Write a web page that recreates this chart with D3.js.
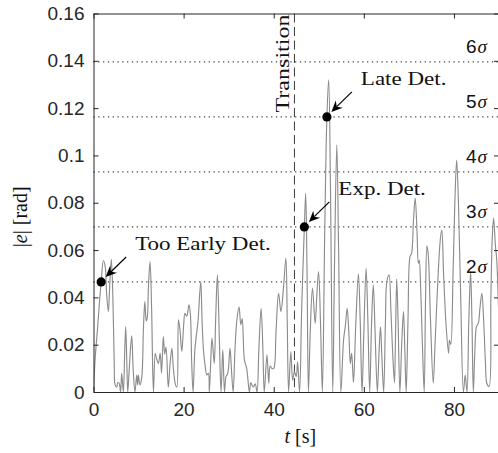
<!DOCTYPE html>
<html>
<head>
<meta charset="utf-8">
<script src="https://cdn.jsdelivr.net/npm/d3@7"></script>
<style>
  html, body { margin: 0; padding: 0; background: #fff; }
  svg { display: block; }
</style>
</head>
<body>
<svg id="chart" width="498" height="453"></svg>
<script>
// ---------------- data ----------------
const xTicks = [0, 20, 40, 60, 80];
const xTickLabels = ["0", "20", "40", "60", "80"];
const yTicks = [0, 0.02, 0.04, 0.06, 0.08, 0.1, 0.12, 0.14, 0.16];
const yTickLabels = ["0", "0.02", "0.04", "0.06", "0.08", "0.1", "0.12", "0.14", "0.16"];

const sigma = 0.02326;
const sigmaLevels = [2, 3, 4, 5, 6];
const transitionTime = 44.6;

const detections = [
  { label: "Too Early Det.", t: 1.7,  level: 2 },
  { label: "Exp. Det.",      t: 46.8, level: 3 },
  { label: "Late Det.",      t: 51.8, level: 5 }
];

// |e| samples: [t (s), |e| (rad)]
const errorSamples = [
  [0,0.001],[0.4,0.015],[0.9,0.027],[1.4,0.040],[1.7,0.0465],[2.2,0.0556],[2.6,0.053],[2.9,0.042],
  [3.3,0.034],[3.6,0.045],[3.96,0.0561],[4.3,0.040],[4.6,0.012],[4.8,0.003],[5.15,0.002],[5.4,0.004],
  [5.7,0.0037],[6.0,0.000],[6.26,0.0079],[6.63,0.000],[6.9,0.015],[7.15,0.0276],[7.4,0.012],[7.6,0.000],
  [8.0,0.012],[8.48,0.0237],[8.8,0.010],[9.2,0.000],[9.6,0.0072],[9.8,0.003],[9.96,0.0072],[10.3,0.003],
  [10.7,0.006],[11.1,0.028],[11.4,0.0382],[11.7,0.030],[11.96,0.032],[12.2,0.045],[12.55,0.0551],[12.9,0.035],
  [13.3,0.000],[13.7,0.0163],[14.0,0.014],[14.4,0.0121],[14.8,0.0163],[15.1,0.008],[15.5,0.0234],[15.8,0.016],
  [16.1,0.019],[16.6,0.002],[17.0,0.012],[17.4,0.0185],[17.7,0.0107],[18.1,0.004],[18.5,0.002],[18.85,0.0305],
  [19.2,0.026],[19.6,0.0171],[20.0,0.028],[20.3,0.0333],[20.7,0.032],[21.2,0.0368],[21.5,0.033],[21.8,0.012],
  [22.1,0.000],[22.5,0.018],[22.8,0.0234],[23.2,0.030],[23.8,0.0467],[24.1,0.030],[24.4,0.018],[24.8,0.0107],
  [25.15,0.0072],[25.5,0.0079],[25.7,0.000],[26.0,0.012],[26.3,0.0227],[26.8,0.0121],[27.1,0.030],[27.5,0.0495],
  [27.9,0.025],[28.3,0.000],[28.7,0.0178],[29.07,0.000],[29.4,0.0065],[29.8,0.0079],[30.3,0.0185],[30.6,0.010],
  [31.0,0.000],[31.4,0.018],[31.8,0.030],[32.3,0.036],[32.7,0.0284],[33.0,0.031],[33.5,0.0135],[34.0,0.010],
  [34.6,0.000],[34.9,0.004],[35.2,0.0028],[35.5,0.0021],[35.9,0.0035],[36.3,0.000],[36.7,0.018],[37.2,0.0354],
  [37.6,0.018],[37.9,0.000],[38.5,0.0157],[38.9,0.0037],[39.2,0.011],[39.6,0.0099],[40.0,0.010],[40.5,0.025],
  [41.07,0.0417],[41.6,0.034],[42.2,0.045],[42.7,0.0566],[43.0,0.030],[43.3,0.000],[43.8,0.0171],[44.2,0.005],
  [44.6,0.0086],[45.0,0.0065],[45.3,0.0128],[45.74,0.000],[46.2,0.035],[46.8,0.0698],[47.1,0.084],[47.4,0.050],
  [47.7,0.000],[48.1,0.025],[48.6,0.0439],[49.2,0.029],[49.6,0.042],[49.96,0.0509],[50.4,0.028],[50.8,0.000],
  [51.3,0.065],[51.8,0.1163],[52.2,0.132],[52.6,0.085],[53.1,0.000],[53.5,0.055],[54.0,0.1045],[54.4,0.060],
  [54.9,0.000],[55.5,0.022],[55.9,0.028],[56.3,0.0354],[56.7,0.024],[57.0,0.012],[57.3,0.0164],[57.7,0.004],
  [58.2,0.028],[58.8,0.050],[59.2,0.030],[59.6,0.000],[60.0,0.025],[60.5,0.0523],[60.9,0.030],[61.3,0.000],
  [61.7,0.028],[62.1,0.0453],[62.5,0.025],[63.0,0.000],[63.4,0.018],[63.7,0.0276],[64.0,0.015],[64.4,0.000],
  [64.8,0.030],[65.1,0.0466],[65.6,0.0495],[66.0,0.035],[66.4,0.0164],[66.8,0.004],[67.0,0.020],[67.3,0.0477],
  [67.6,0.030],[68.0,0.000],[68.4,0.020],[68.8,0.034],[69.1,0.018],[69.4,0.000],[69.8,0.030],[70.25,0.0572],
  [70.6,0.0586],[71.0,0.072],[71.4,0.082],[71.8,0.068],[72.1,0.0544],[72.3,0.0558],[72.6,0.045],[73.0,0.020],
  [73.4,0.000],[73.7,0.040],[74.0,0.0618],[74.3,0.058],[74.8,0.030],[75.4,0.0037],[75.8,0.020],[76.5,0.050],
  [77.0,0.065],[77.3,0.0685],[77.7,0.050],[78.2,0.030],[78.8,0.0164],[79.0,0.022],[79.3,0.020],[79.8,0.050],
  [80.2,0.080],[80.6,0.098],[81.0,0.080],[81.5,0.040],[82.1,0.000],[82.5,0.0072],[82.9,0.000],[83.3,0.030],
  [83.7,0.0509],[84.0,0.030],[84.3,0.000],[84.6,0.015],[85.0,0.0276],[85.4,0.029],[85.8,0.036],[86.2,0.0417],
  [86.6,0.030],[87.0,0.012],[87.3,0.0037],[87.8,0.0023],[88.2,0.040],[88.5,0.065],[88.8,0.0735],[89.2,0.062],
  [89.5,0.0558],[90.0,0.030],[90.5,0.010]
];

// ---------------- drawing ----------------
const svg = d3.select("#chart");
const axisColor = "#262626";
const sansFont = "'Liberation Sans', Arial, Helvetica, sans-serif";
const serifFont = "'Liberation Serif', 'Times New Roman', serif";

const x = d3.scaleLinear().domain([0, 90]).range([93.5, 499]);
const y = d3.scaleLinear().domain([0, 0.16]).range([392, 13.5]);
const [x0, x1] = x.range();
const [yb, yt] = y.range();

svg.append("defs").append("clipPath").attr("id", "plotClip")
  .append("rect").attr("x", x0).attr("y", yt).attr("width", x1 - x0).attr("height", yb - yt);

// sigma dotted lines
svg.append("g").selectAll("line").data(sigmaLevels).join("line")
  .attr("x1", x0).attr("x2", x1)
  .attr("y1", d => y(d * sigma)).attr("y2", d => y(d * sigma))
  .attr("stroke", "#3a3a3a").attr("stroke-width", 1.3)
  .attr("stroke-dasharray", "1.2 3.6");

// transition dashed line
svg.append("line")
  .attr("x1", x(transitionTime)).attr("x2", x(transitionTime))
  .attr("y1", yt).attr("y2", yb)
  .attr("stroke", "#3a3a3a").attr("stroke-width", 1)
  .attr("stroke-dasharray", "9 4.5");

// signal
svg.append("path")
  .datum(errorSamples)
  .attr("clip-path", "url(#plotClip)")
  .attr("fill", "none")
  .attr("stroke", "#8c8c8c")
  .attr("stroke-width", 1.15)
  .attr("stroke-linejoin", "round")
  .attr("d", d3.line().x(d => x(d[0])).y(d => y(d[1])).curve(d3.curveCatmullRom.alpha(0.5)));

// axes (inward ticks, boxed)
function styleAxis(g) {
  g.selectAll("path.domain").attr("stroke", axisColor).attr("stroke-width", 1);
  g.selectAll(".tick line").attr("stroke", axisColor).attr("stroke-width", 1);
  g.selectAll(".tick text").attr("fill", axisColor).attr("font-family", sansFont).attr("font-size", 19);
}
svg.append("g").attr("transform", `translate(0,${yb})`)
  .call(d3.axisBottom(x).tickValues(xTicks).tickFormat((d, i) => xTickLabels[i]).tickSizeInner(-5).tickSizeOuter(0).tickPadding(11))
  .call(styleAxis);
svg.append("g").attr("transform", `translate(0,${yt})`)
  .call(d3.axisTop(x).tickValues(xTicks).tickFormat("").tickSizeInner(-5).tickSizeOuter(0))
  .call(styleAxis);
svg.append("g").attr("transform", `translate(${x0},0)`)
  .call(d3.axisLeft(y).tickValues(yTicks).tickFormat((d, i) => yTickLabels[i]).tickSizeInner(-5).tickSizeOuter(0).tickPadding(9))
  .call(styleAxis);
svg.append("g").attr("transform", `translate(${x1},0)`)
  .call(d3.axisRight(y).tickValues(yTicks).tickFormat("").tickSizeInner(-5).tickSizeOuter(0))
  .call(styleAxis);

// sigma labels
const sigLab = svg.append("g").selectAll("text").data(sigmaLevels).join("text")
  .attr("x", x1 - 33).attr("y", d => y(d * sigma) - 8.5)
  .attr("fill", "#111").attr("font-size", 19);
sigLab.append("tspan").attr("font-family", sansFont).text(d => d);
sigLab.append("tspan").attr("font-family", serifFont).attr("font-style", "italic").attr("dx", 1).text("σ");

// Transition label
svg.append("text")
  .attr("transform", `translate(${x(transitionTime) - 5},${yt + 1}) rotate(-90)`)
  .attr("text-anchor", "end")
  .attr("font-family", serifFont).attr("font-size", 19).attr("fill", "#111")
  .attr("textLength", 98).attr("lengthAdjust", "spacingAndGlyphs")
  .text("Transition");

// detections: dots, arrows, labels
const det = svg.append("g");
detections.forEach(d => {
  const px = x(d.t), py = y(d.level * sigma);
  det.append("circle").attr("cx", px).attr("cy", py).attr("r", 4.6).attr("fill", "#000");
  const sx = px + 25, sy = py - 25, tx = px + 4.5, ty = py - 5;
  const ang = Math.atan2(ty - sy, tx - sx);
  const L = 11, Wd = 5, N = 7.5;
  const bx = tx - L * Math.cos(ang), by = ty - L * Math.sin(ang);
  const nx = tx - N * Math.cos(ang), ny = ty - N * Math.sin(ang);
  const ox = -Math.sin(ang) * Wd, oy = Math.cos(ang) * Wd;
  det.append("line").attr("x1", sx).attr("y1", sy).attr("x2", nx).attr("y2", ny)
    .attr("stroke", "#000").attr("stroke-width", 1.2);
  det.append("path")
    .attr("d", `M${tx},${ty}L${bx + ox},${by + oy}L${nx},${ny}L${bx - ox},${by - oy}Z`)
    .attr("fill", "#000");
  const txt = det.append("text").attr("x", px + 34).attr("y", py - 32)
    .attr("font-family", serifFont).attr("font-size", 19).attr("fill", "#111")
    .text(d.label);
  const len = txt.node().getComputedTextLength();
  txt.attr("textLength", len * 1.21).attr("lengthAdjust", "spacingAndGlyphs");
});

// axis titles
const xt = svg.append("text")
  .attr("x", (x0 + x(90)) / 2 + 4).attr("y", 443)
  .attr("text-anchor", "middle")
  .attr("font-family", serifFont).attr("font-size", 20).attr("fill", "#111");
xt.append("tspan").attr("font-style", "italic").text("t");
xt.append("tspan").text(" [s]");

const yl = svg.append("text")
  .attr("transform", `translate(27,${(yt + yb) / 2 + 14}) rotate(-90)`)
  .attr("text-anchor", "middle")
  .attr("font-family", serifFont).attr("font-size", 20).attr("fill", "#111");
yl.append("tspan").text("|");
yl.append("tspan").attr("font-style", "italic").text("e");
yl.append("tspan").text("| [rad]");
</script>
</body>
</html>
